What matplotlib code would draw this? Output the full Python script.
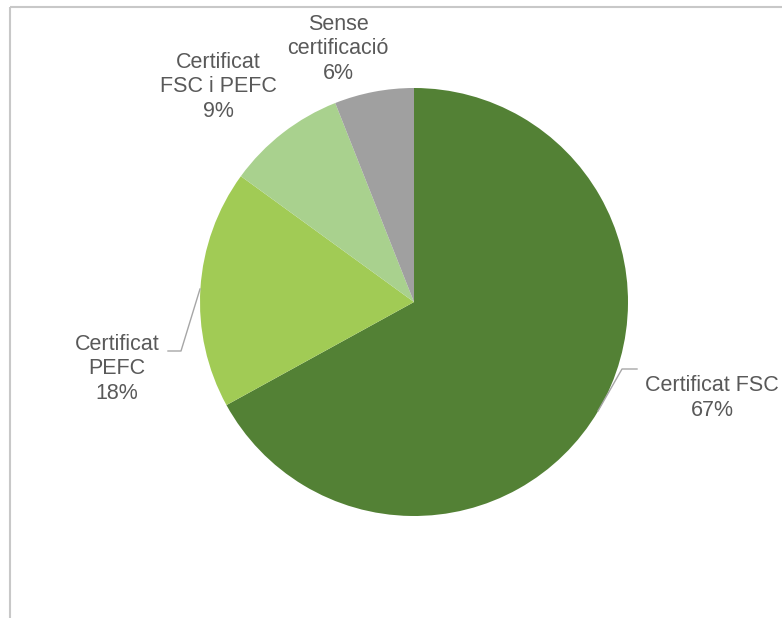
import matplotlib
matplotlib.use("Agg")
import matplotlib.pyplot as plt

categories = ["Certificat FSC", "Certificat\nPEFC", "Certificat\nFSC i PEFC", "Sense\ncertificació"]
values = [67, 18, 9, 6]
colors = ["#538135", "#A1CB55", "#A9D18E", "#A0A0A0"]

W, H = 782, 618
fig = plt.figure(figsize=(W / 100, H / 100), dpi=100)
ax = fig.add_axes([0, 0, 1, 1])

cx, cy, r = 414, H - 302, 214
wedges, _ = ax.pie(values, colors=colors, startangle=90, counterclock=False,
                   center=(cx, cy), radius=r, frame=True,
                   wedgeprops=dict(linewidth=0))
ax.set_xlim(0, W)
ax.set_ylim(0, H)
ax.set_aspect("equal")
ax.axis("off")

# frame lines
ax.plot([10, W], [H - 7, H - 7], color="#C8C8C8", lw=1.5, solid_capstyle="butt")
ax.plot([10, 10], [0, H - 7], color="#C8C8C8", lw=1.5, solid_capstyle="butt")

tc = "#595959"
fs = 15.5
fam = ["Liberation Sans", "DejaVu Sans"]
label_texts = [f"{c}\n{v}%" for c, v in zip(categories, values)]
label_pos = [(712, H - 398), (117, H - 369), (218, H - 87), (338, H - 49)]
for t, (x, y) in zip(label_texts, label_pos):
    ax.text(x, y, t, ha="center", va="center", fontsize=fs, color=tc,
            family=fam, linespacing=1.2)

# leader lines
lc = "#A6A6A6"
ax.plot([598, 622, 637], [H - 411, H - 369, H - 369], color=lc, lw=1)
ax.plot([200, 181, 168], [H - 289, H - 351, H - 351], color=lc, lw=1)

fig.savefig("out.png", dpi=100)
